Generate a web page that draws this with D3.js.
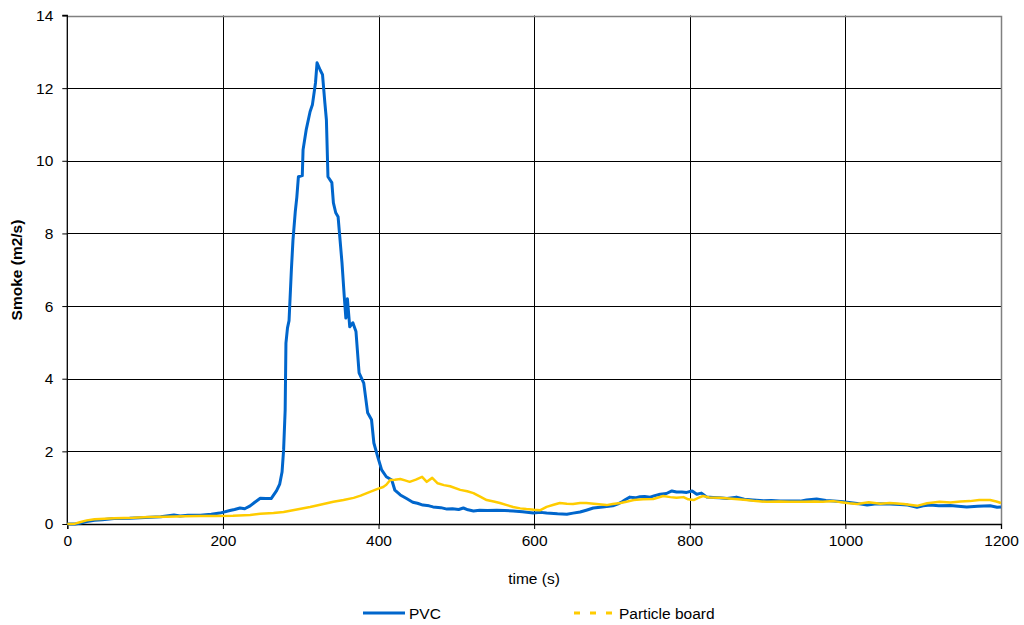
<!DOCTYPE html>
<html><head><meta charset="utf-8">
<script src="https://cdn.jsdelivr.net/npm/d3@7"></script>
<style>body{margin:0;background:#fff}svg{display:block}text{font-family:"Liberation Sans",Arial,sans-serif;fill:#000}</style>
</head><body><svg id="c" width="1024" height="625"></svg>
<script>
const xTicks=[0,200,400,600,800,1000,1200];
const yTicks=[0,2,4,6,8,10,12,14];
const seriesNames=["PVC","Particle board"];
const pvcTime=[0,10,16,25,35,45,60,80,100,120,130,137,145,155,171,185,196,209,215,222,228,235,241,248,255,262,269,273,276,278,280,281,283,285,288,290,293,295,297,302,303,307,312,315,319,321,325,328,331,333,335,340,342,345,348,353,356,358,360,363,367,371,375,381,386,391,394,399,404,410,417,421,428,436,444,450,457,465,470,480,488,495,503,509,515,522,530,540,552,562,573,585,599,608,616,630,642,650,659,667,676,688,701,707,713,718,723,730,736,742,749,755,762,770,777,783,790,796,803,809,815,822,830,838,848,860,870,881,895,905,916,928,942,950,963,975,985,997,1010,1020,1028,1040,1057,1070,1080,1092,1100,1109,1120,1135,1145,1156,1170,1186,1195,1200];
const pvcSmoke=[0,0,0.02,0.07,0.1,0.12,0.15,0.16,0.18,0.2,0.23,0.25,0.22,0.24,0.24,0.27,0.3,0.37,0.4,0.44,0.42,0.5,0.6,0.71,0.7,0.7,0.92,1.1,1.43,2.04,3.14,4.98,5.4,5.6,7.0,7.8,8.6,9.0,9.56,9.59,10.3,10.85,11.35,11.54,12.15,12.7,12.5,12.37,11.6,11.13,9.56,9.4,8.84,8.57,8.46,7.2,6.25,5.67,6.2,5.43,5.54,5.3,4.16,3.88,3.06,2.87,2.23,1.85,1.49,1.3,1.21,0.93,0.8,0.7,0.6,0.57,0.52,0.5,0.47,0.45,0.41,0.42,0.4,0.44,0.39,0.36,0.38,0.37,0.38,0.37,0.36,0.34,0.3,0.32,0.3,0.28,0.27,0.3,0.33,0.38,0.44,0.47,0.5,0.55,0.61,0.68,0.74,0.72,0.75,0.76,0.74,0.78,0.82,0.84,0.91,0.88,0.88,0.87,0.91,0.82,0.85,0.74,0.73,0.72,0.7,0.74,0.68,0.66,0.64,0.65,0.63,0.63,0.63,0.66,0.69,0.65,0.63,0.61,0.58,0.55,0.52,0.56,0.55,0.54,0.52,0.46,0.5,0.52,0.5,0.51,0.49,0.47,0.49,0.5,0.46,0.47];
const boardTime=[0,10,16,25,35,42,60,85,105,128,150,171,190,213,235,248,265,278,295,312,325,342,355,368,377,385,398,406,410,415,421,428,434,440,448,456,462,469,476,484,492,505,514,522,530,539,548,556,565,573,582,590,600,608,616,625,633,642,650,659,667,680,693,701,711,720,728,740,753,766,775,783,792,798,805,811,817,825,838,850,862,873,885,899,915,928,945,960,971,985,995,1005,1015,1030,1045,1057,1075,1092,1105,1121,1135,1148,1160,1172,1186,1194,1200];
const boardSmoke=[0,0.01,0.05,0.1,0.13,0.14,0.16,0.17,0.19,0.2,0.21,0.22,0.22,0.23,0.25,0.28,0.3,0.33,0.4,0.47,0.53,0.61,0.66,0.72,0.78,0.85,0.96,1.02,1.08,1.21,1.22,1.24,1.2,1.16,1.22,1.3,1.16,1.27,1.12,1.07,1.04,0.94,0.9,0.85,0.76,0.66,0.62,0.58,0.52,0.47,0.43,0.41,0.39,0.38,0.47,0.53,0.58,0.56,0.55,0.58,0.58,0.55,0.52,0.55,0.58,0.62,0.66,0.68,0.69,0.77,0.74,0.72,0.74,0.68,0.66,0.72,0.77,0.73,0.72,0.7,0.68,0.66,0.63,0.61,0.62,0.61,0.61,0.62,0.61,0.63,0.6,0.57,0.55,0.6,0.56,0.58,0.55,0.5,0.57,0.61,0.59,0.62,0.63,0.66,0.66,0.62,0.58];

const svg=d3.select("#c");
const L=67.3,R=1001,T=15.5,B=524;
const x=d3.scaleLinear().domain([0,1200]).range([L,R]);
const y=d3.scaleLinear().domain([0,14]).range([B,T]);

// gridlines
const g=svg.append("g");
g.selectAll(".hg").data(yTicks.slice(1,-1)).enter().append("line")
 .attr("x1",L).attr("x2",R).attr("y1",d=>Math.round(y(d))+0.5).attr("y2",d=>Math.round(y(d))+0.5)
 .attr("stroke","#000").attr("stroke-width",1);
g.selectAll(".vg").data(xTicks.slice(1,-1)).enter().append("line")
 .attr("y1",T).attr("y2",B).attr("x1",d=>Math.round(x(d))+0.5).attr("x2",d=>Math.round(x(d))+0.5)
 .attr("stroke","#000").attr("stroke-width",1);
// plot border top/right gray
svg.append("path").attr("d",`M${L},${Math.round(T)+0.5}H${Math.round(R)+0.5}V${B}`).attr("fill","none").attr("stroke","#808080").attr("stroke-width",1.5);

// axes
const xAxis=d3.axisBottom(x).tickValues(xTicks).tickSize(5).tickPadding(6).tickFormat(d3.format("d"));
const yAxis=d3.axisLeft(y).tickValues(yTicks).tickSize(5).tickPadding(9).tickFormat(d3.format("d"));
const gx=svg.append("g").attr("transform",`translate(0,${B})`).call(xAxis);
const gy=svg.append("g").attr("transform",`translate(${L},0)`).call(yAxis);
[gx,gy].forEach(a=>{a.select(".domain").attr("stroke","#000").attr("stroke-width",1.3);
 a.selectAll(".tick line").attr("stroke","#000");
 a.selectAll("text").attr("font-size",15.5).attr("font-family","Liberation Sans, Arial, sans-serif").attr("fill","#000");});
gy.select(".domain").attr("d",`M-5,${y(14)}H0V${B}`);

// lines
const line=d3.line().x(d=>x(d[0])).y(d=>y(d[1]));
const pvc=pvcTime.map((t,i)=>[t,pvcSmoke[i]]);
const board=boardTime.map((t,i)=>[t,boardSmoke[i]]);
svg.append("path").datum(pvc).attr("d",line).attr("fill","none").attr("stroke","#0066CC").attr("stroke-width",3).attr("stroke-linejoin","round");
svg.append("path").datum(board).attr("d",line).attr("fill","none").attr("stroke","#FFCC00").attr("stroke-width",2.5).attr("stroke-linejoin","round");

// titles
svg.append("text").attr("x",534).attr("y",584).attr("text-anchor","middle").attr("font-size",15.5).text("time (s)");
svg.append("text").attr("transform","translate(22,270) rotate(-90)").attr("text-anchor","middle").attr("font-size",15.5).attr("font-weight","bold").text("Smoke (m2/s)");

// legend
const leg=svg.append("g");
leg.append("line").attr("x1",363).attr("x2",405).attr("y1",613).attr("y2",613).attr("stroke","#0066CC").attr("stroke-width",3);
leg.append("text").attr("x",409).attr("y",619).attr("font-size",15.5).text(seriesNames[0]);
leg.append("line").attr("x1",574).attr("x2",613).attr("y1",613).attr("y2",613).attr("stroke","#FFCC00").attr("stroke-width",3).attr("stroke-dasharray","6,10");
leg.append("text").attr("x",619).attr("y",619).attr("font-size",15.5).text(seriesNames[1]);
</script></body></html>
